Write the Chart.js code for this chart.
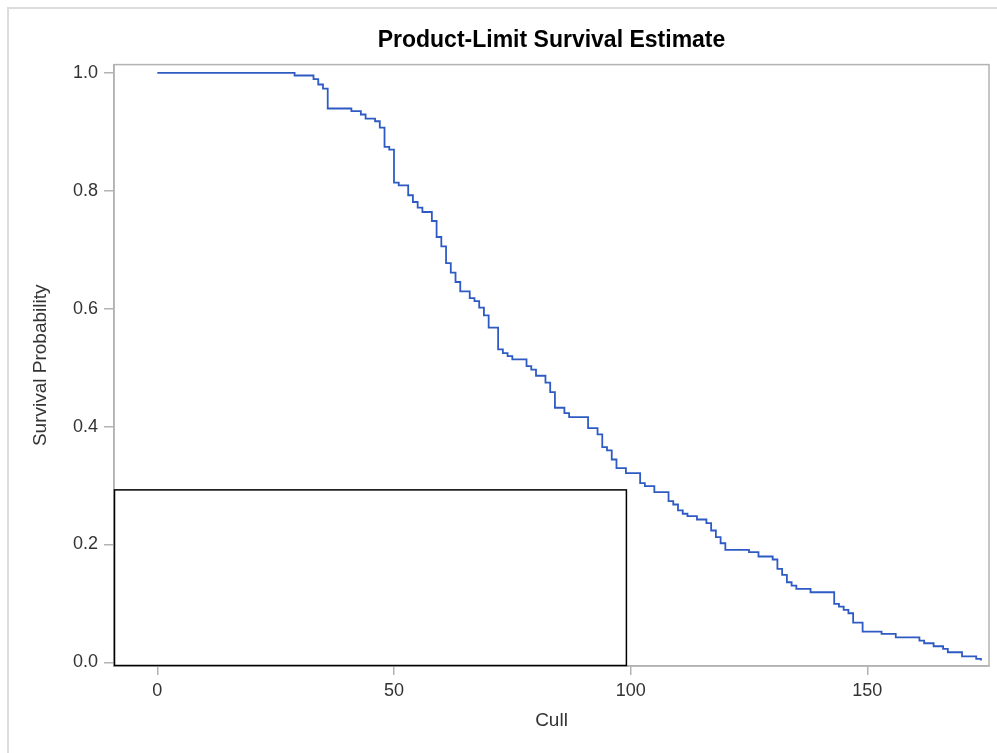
<!DOCTYPE html>
<html>
<head>
<meta charset="utf-8">
<title>Product-Limit Survival Estimate</title>
<script src="https://cdn.jsdelivr.net/npm/chart.js@4.4.1/dist/chart.umd.min.js"></script>
<style>
  html, body { margin: 0; padding: 0; background: #fff; }
  canvas { display: block; }
</style>
</head>
<body>
<canvas id="kmChart" width="997" height="753"></canvas>
<script>
// Kaplan-Meier steps: time of each drop and survival after it
const cullTimes = [0, 29, 33, 34, 35, 36, 41, 43, 44, 46, 47, 48, 49, 50, 51,
  53, 54, 55, 56, 58, 59, 60, 61, 62, 63, 64, 66, 67, 68, 69, 70, 72, 73, 74, 75,
  78, 79, 80, 82, 83, 84, 86, 87, 91, 93, 94, 95, 96, 97, 99,
  102, 103, 105, 108, 109, 110, 111, 112, 114, 116, 117, 118, 119, 120, 125, 127,
  130, 131, 132, 133, 134, 135, 138, 143, 144, 145, 146, 147, 149,
  153, 156, 161, 162, 164, 166, 167, 170, 173, 174];

const survival = [1.0, 0.9956, 0.9893, 0.9803, 0.9735, 0.9396,
  0.935, 0.9294, 0.9226, 0.918, 0.9073, 0.8744, 0.870, 0.814, 0.8093,
  0.7924, 0.781, 0.7715, 0.764, 0.7487, 0.7216, 0.7058, 0.6774, 0.6611, 0.6452, 0.6294,
  0.618, 0.6129, 0.6017, 0.5886, 0.5677, 0.5309, 0.5246, 0.5195, 0.5139,
  0.5025, 0.4966, 0.4862, 0.4744, 0.4584, 0.4319, 0.4228, 0.416,
  0.3973, 0.3866, 0.365, 0.3594, 0.3441, 0.3294, 0.3209,
  0.3039, 0.2988, 0.2886, 0.2733, 0.2677, 0.2576, 0.252, 0.2479, 0.2423,
  0.236, 0.2236, 0.2122, 0.202, 0.1908, 0.1868, 0.1795,
  0.1744, 0.1586, 0.1484, 0.1358, 0.1302, 0.1246, 0.1188,
  0.099, 0.0944, 0.089, 0.0832, 0.0672, 0.0521,
  0.0482, 0.0424, 0.0368, 0.0323, 0.0272, 0.0228, 0.017, 0.0102, 0.0058, 0.003];

const xTicks = [0, 50, 100, 150];
const yTicks = [0.0, 0.2, 0.4, 0.6, 0.8, 1.0];

// empty inset box in the lower left (its upper-right corner in axis units)
const insetCorner = [99.1, 0.2925];

const points = cullTimes.map((t, i) => ({ x: t, y: survival[i] }));

// page border, plot frame and the blank inset rectangle
const framePlugin = {
  id: 'frames',
  beforeDraw(chart) {
    const ctx = chart.ctx;
    ctx.save();
    ctx.strokeStyle = '#dcdcdc';
    ctx.lineWidth = 2;
    ctx.strokeRect(8, 8, chart.width + 20, chart.height + 20);
    ctx.restore();
  },
  afterDraw(chart) {
    const { ctx, chartArea: a, scales } = chart;
    ctx.save();
    ctx.strokeStyle = '#b3b3b3';
    ctx.lineWidth = 1.5;
    ctx.strokeRect(a.left, a.top, a.right - a.left, a.bottom - a.top);

    const right = scales.x.getPixelForValue(insetCorner[0]);
    const top = scales.y.getPixelForValue(insetCorner[1]);
    ctx.strokeStyle = '#000';
    ctx.lineWidth = 1.5;
    ctx.strokeRect(a.left + 0.5, top, right - a.left - 0.5, a.bottom - top - 0.5);
    ctx.restore();
  }
};

Chart.defaults.font.family = '"Liberation Sans", Arial, sans-serif';
Chart.defaults.color = '#333';

new Chart(document.getElementById('kmChart'), {
  type: 'line',
  data: {
    datasets: [{
      label: 'Survival',
      data: points,
      stepped: 'before',
      borderColor: '#2E5BC3',
      borderWidth: 1.8,
      pointRadius: 0,
      fill: false
    }]
  },
  plugins: [framePlugin],
  options: {
    responsive: false,
    animation: false,
    events: [],
    layout: { padding: { left: 0, right: 8, top: 0, bottom: 0 } },
    plugins: {
      legend: { display: false },
      tooltip: { enabled: false },
      title: {
        display: true,
        fullSize: false,
        text: 'Product-Limit Survival Estimate',
        color: '#000',
        font: { size: 23, weight: 'bold' },
        padding: { top: 27, bottom: 10 }
      }
    },
    scales: {
      x: {
        type: 'linear',
        min: -9.15,
        max: 175.7,
        afterBuildTicks: s => { s.ticks = xTicks.map(v => ({ value: v })); },
        afterFit: s => { s.height = 87; },
        ticks: { font: { size: 18 }, padding: 5, color: '#333' },
        grid: { drawOnChartArea: false, tickLength: 9, tickColor: '#b3b3b3', lineWidth: 1.5 },
        border: { color: '#b3b3b3', width: 1.5 },
        title: { display: true, text: 'Cull', font: { size: 19 }, color: '#333', padding: { top: 0, bottom: 21 } }
      },
      y: {
        type: 'linear',
        min: -0.0063,
        max: 1.0141,
        afterBuildTicks: s => { s.ticks = yTicks.map(v => ({ value: v })); },
        afterFit: s => { s.width = 114; },
        ticks: { font: { size: 18 }, padding: 6, color: '#333', callback: v => v.toFixed(1) },
        grid: { drawOnChartArea: false, tickLength: 10, tickColor: '#b3b3b3', lineWidth: 1.5 },
        border: { color: '#b3b3b3', width: 1.5 },
        title: { display: true, text: 'Survival Probability', font: { size: 19 }, color: '#333', padding: { top: 29, bottom: 0 } }
      }
    }
  }
});
</script>
</body>
</html>
